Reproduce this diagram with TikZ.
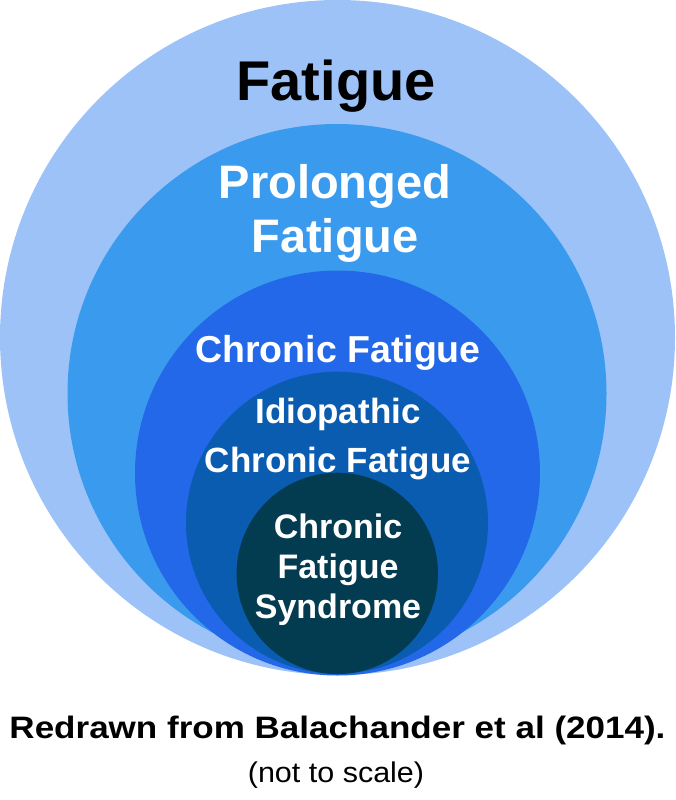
\documentclass[tikz,border=0pt]{standalone}
\usepackage{fontspec}
\setmainfont{Liberation Sans}
\newfontfamily\capfont[FakeStretch=1.13]{Liberation Sans}
\newfontfamily\notefont[FakeStretch=1.07]{Liberation Sans}
\definecolor{cA}{HTML}{9DC2F7}
\definecolor{cB}{HTML}{3A9BEE}
\definecolor{cC}{HTML}{2468EA}
\definecolor{cD}{HTML}{095CB0}
\definecolor{cE}{HTML}{033C50}
\begin{document}
\begin{tikzpicture}[x=1pt,y=-1pt,
  lbl/.style={font=\bfseries, align=center, inner sep=0pt}]
\useasboundingbox (0,0) rectangle (675,800);
\fill[cA] (337.5,337.5) circle[radius=337.5];
\fill[cB] (337,393.5) circle[radius=269.5];
\fill[cC] (337.5,473) circle[radius=202.5];
\fill[cD] (337,522.7) circle[radius=151];
\fill[cE] (337.3,573.4) circle[radius=100.7];
\node[lbl, anchor=base, text=black, font=\fontsize{56}{60}\selectfont\bfseries] (t1) at (336,100) {Fatigue};
\node[lbl, text=white, font=\fontsize{47}{54}\selectfont\bfseries] (t2) at (335,213) {Prolonged\\Fatigue};
\node[lbl, text=white, font=\fontsize{37.5}{42}\selectfont\bfseries] (t3) at (338,353) {Chronic Fatigue};
\node[lbl, text=white, font=\fontsize{35}{49}\selectfont\bfseries] (t4) at (338,439) {Idiopathic\\Chronic Fatigue};
\node[lbl, text=white, font=\fontsize{34}{40}\selectfont\bfseries] (t5) at (338,570) {Chronic\\Fatigue\\Syndrome};
\node[lbl, anchor=base, text=black, font=\fontsize{31}{36}\capfont\bfseries] (c1) at (337.5,738) {Redrawn from Balachander et al (2014).};
\node[lbl, anchor=base, text=black, font=\fontsize{28.5}{30}\notefont] (c2) at (336,782) {(not to scale)};
\end{tikzpicture}
\end{document}
